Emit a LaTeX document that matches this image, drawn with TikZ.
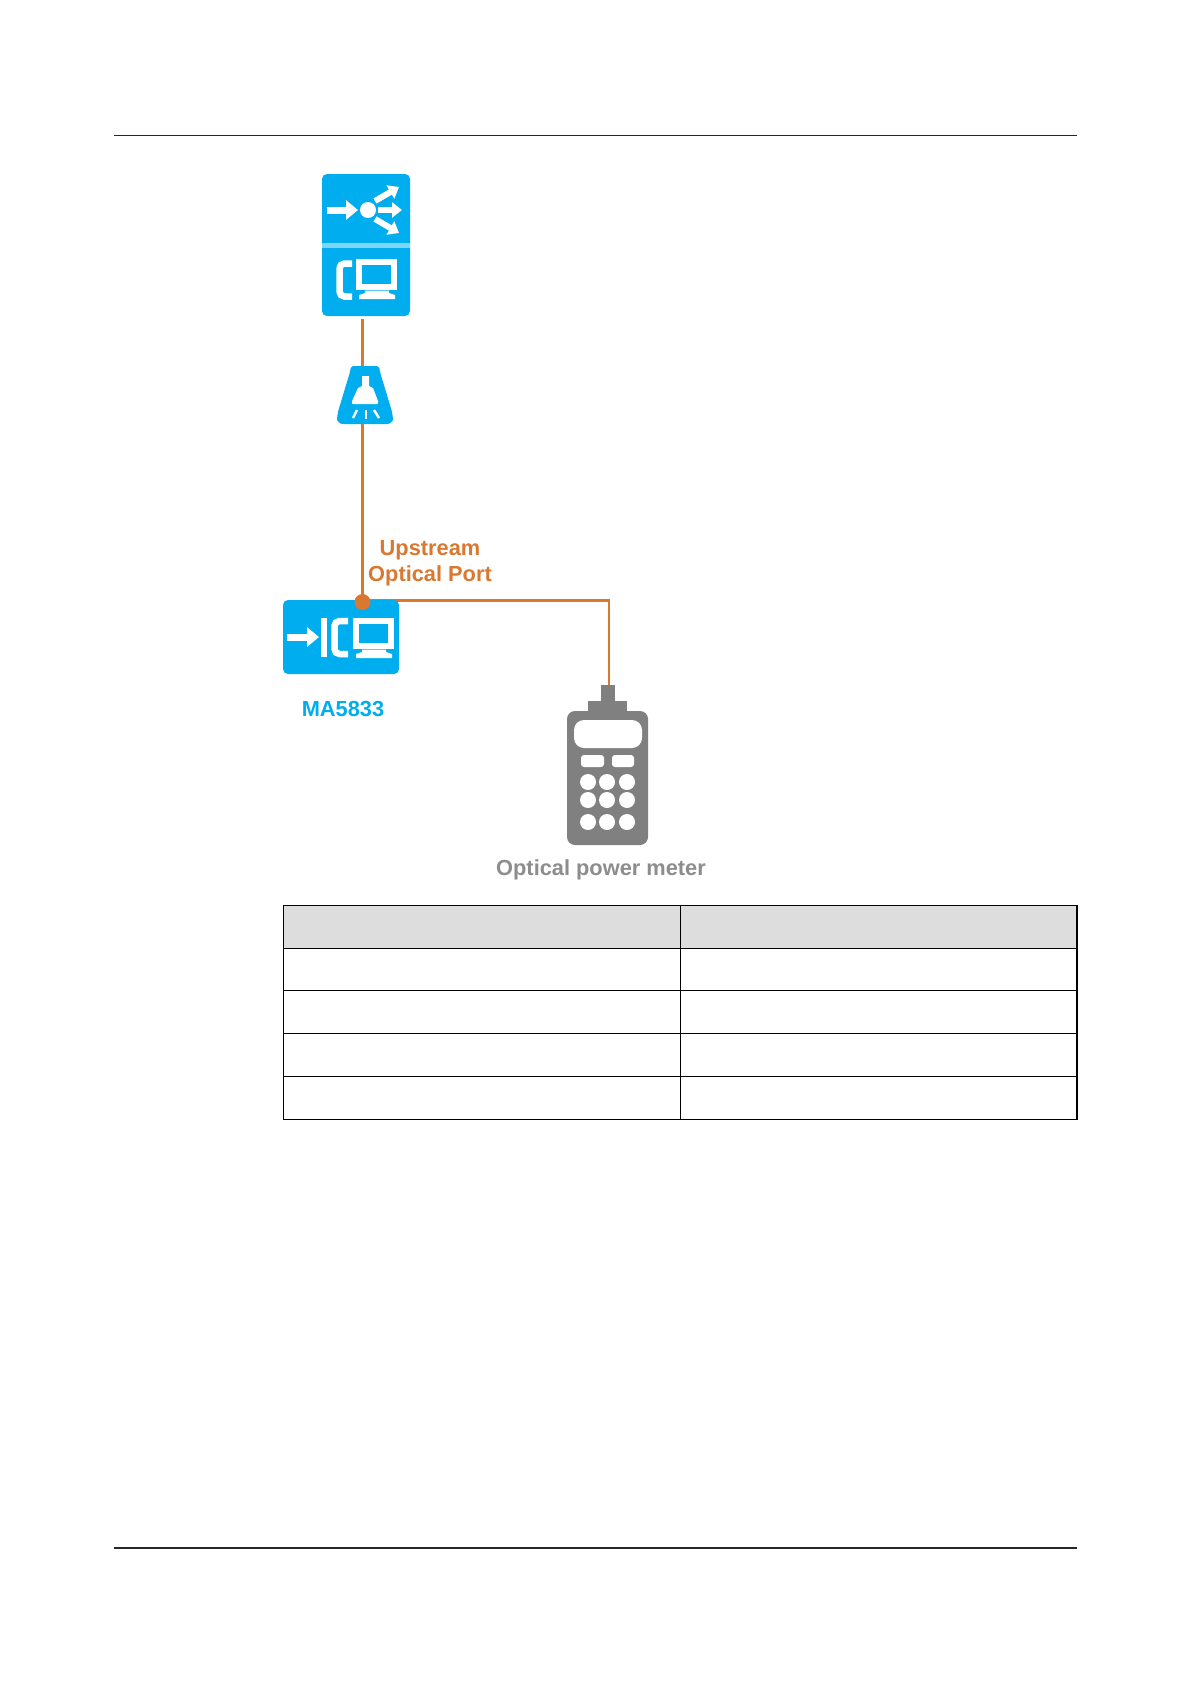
\documentclass[tikz,border=0pt]{standalone}
\usepackage{fontspec}
\setmainfont{Liberation Sans}
\usepackage{xcolor}
\usetikzlibrary{positioning,arrows.meta}
\definecolor{DeviceBlue}{RGB}{0,174,239}
\definecolor{BandBlue}{RGB}{125,214,248}
\definecolor{FibreOrange}{RGB}{217,120,48}
\definecolor{MeterGray}{RGB}{128,128,128}
\definecolor{HeadGray}{RGB}{221,221,221}

\tikzset{
    pcicon/.pic={
        \fill[white] (0,0) rectangle (41,31);
        \fill[DeviceBlue] (6,5.5) rectangle (35,25);
        \fill[white] (9,31.5) -- (33,31.5) -- (33,34) -- (39,36) -- (39,40) -- (3,40) -- (3,36) -- (9,34) -- cycle;
    },
    whitearrow/.style={draw=white, line width=7pt, -{Triangle[length=12pt, width=19pt, fill=white]}},
    branchbar/.style={draw=white, line width=6pt, -{Triangle[length=10pt, width=15pt, fill=white]}},
}

\begin{document}
\begin{tikzpicture}[
    x=1pt, y=-1pt,
    every node/.style={font=\fontsize{21.8}{26}\selectfont\bfseries, inner sep=0pt, align=center},
    devicebox/.style={fill=DeviceBlue, rounded corners=5pt, minimum width=#1},
    fibre/.style={draw=FibreOrange, line width=2.6pt},
    handset/.style={draw=white, line width=6.5pt, rounded corners=5pt},
    keyhole/.style={circle, fill=white, minimum size=16pt},
    softkey/.style={rectangle, fill=white, rounded corners=3pt, minimum height=12pt},
    pagerule/.style={draw=black!85, line width=1.2pt},
]
\useasboundingbox (0,0) rectangle (1191,1684);
\fill[white] (0,0) rectangle (1191,1684);

% page rules
\coordinate (ruleTL) at (114,135.5);
\coordinate (ruleTR) at (1077,135.5);
\coordinate (ruleBL) at (114,1548);
\coordinate (ruleBR) at (1077,1548);
\draw[pagerule] (ruleTL) -- (ruleTR);
\draw[pagerule] (ruleBL) -- (ruleBR);

% connector ends
\coordinate (oltEnd) at (362.5,319);
\coordinate (portDot) at (362.5,602);
\coordinate (portBend) at (609,600.5);
\coordinate (portLeft) at (362.5,600.5);
\coordinate (meterEnd) at (609,688);
\draw[fibre] (oltEnd) -- (portDot);
\draw[fibre] (portLeft) -- (portBend) -- (meterEnd);

% OLT
\node[devicebox=88pt, minimum height=142pt] (olt) at (366,245) {};
\fill[BandBlue] (322,243) rectangle (410,248);
\draw[whitearrow] (327,210) -- (358,210);
\node[circle, fill=white, minimum size=16pt] (oltHub) at (368,210) {};
\draw[branchbar] (375,201) -- (399,187);
\draw[branchbar] (378,210) -- (402,210);
\draw[branchbar] (375,219) -- (399,233);
\draw[handset] (352,263.5) -- (339.5,263.5) -- (339.5,296.5) -- (352,296.5);
\pic at (356,259) {pcicon};

% splitter
\fill[DeviceBlue, rounded corners=2pt] (351,366) -- (379,366) -- (380,372)
    [rounded corners=6pt] -- (393,415) -- (393,424) -- (337,424) -- (337,415)
    [rounded corners=2pt] -- (350,372) -- cycle;
\fill[white] (362,376) -- (369,376) -- (369,386) -- (373,388) -- (378,401)
    [rounded corners=1pt] -- (378,404) -- (352,404) -- (352,401) [sharp corners] -- (358,388) -- (362,386) -- cycle;
\draw[white, line width=2.4pt] (357,410) -- (353,418);
\draw[white, line width=2.4pt] (366,410) -- (366,419);
\draw[white, line width=2.4pt] (374,410) -- (379,418);

% MA5833
\node[devicebox=116pt, minimum height=74pt] (ont) at (341,637) {};
\draw[whitearrow] (287,637) -- (319,637);
\fill[white] (321,618) rectangle (327,657);
\draw[handset] (348,621) -- (334.5,621) -- (334.5,654) -- (348,654);
\pic at (353,618) {pcicon};
\fill[FibreOrange] (portDot) circle (8pt);
\node[text=DeviceBlue] (ontLabel) at (343,709) {MA5833};
\node[text=FibreOrange] (portLabel) at (430,563.5) {Upstream\\Optical Port};

% power meter
\node[rectangle, fill=MeterGray, rounded corners=8pt, minimum width=81pt, minimum height=134pt] (meter) at (607.5,778) {};
\fill[MeterGray] (588,701) rectangle (627,712);
\fill[MeterGray] (601,685) rectangle (615,702);
\node[rectangle, fill=white, rounded corners=10pt, minimum width=68pt, minimum height=28pt] (meterScreen) at (608,734) {};
\node[softkey, minimum width=23pt] (keyA) at (592.5,761) {};
\node[softkey, minimum width=22pt] (keyB) at (623,761) {};
\foreach \keyy in {782,800,822}
    \foreach \keyx in {588,607,627}
        \node[keyhole] at (\keyx,\keyy) {};
\node[text=MeterGray!90!white] (meterLabel) at (601,870) {Optical power meter};

% table
\fill[HeadGray] (283.5,905.5) rectangle (1077,948.5);
\foreach \rowy/\rowlw in {948.5/1.1, 990.5/1.8, 1033.5/1.8, 1076.5/1.1}
    \draw[black, line width=\rowlw pt] (283.5,\rowy) -- (1077,\rowy);
\draw[black, line width=1pt] (680,905.5) -- (680,1119.5);
\draw[black, line width=1.5pt] (283.5,905.5) rectangle (1077,1119.5);
\end{tikzpicture}
\end{document}
